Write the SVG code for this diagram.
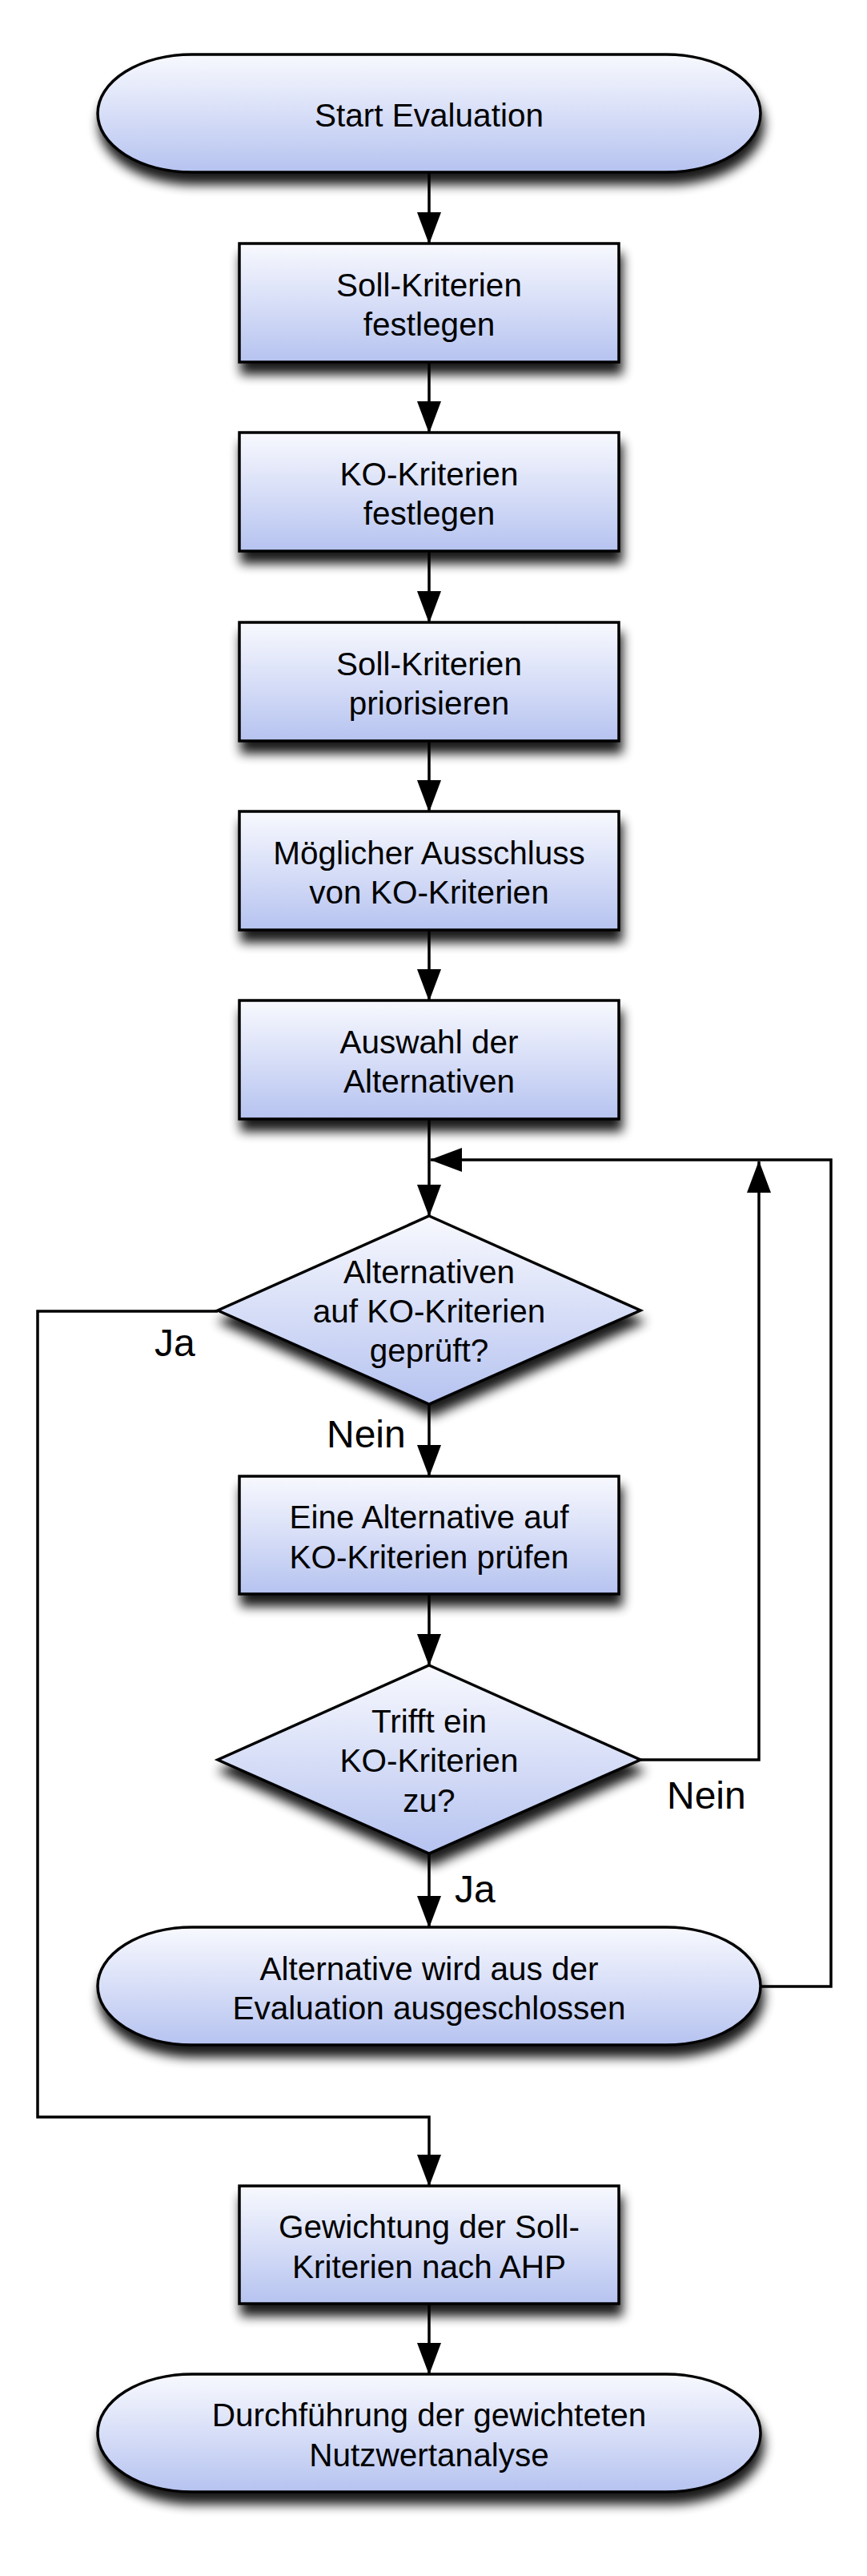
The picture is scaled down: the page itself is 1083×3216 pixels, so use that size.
<svg xmlns="http://www.w3.org/2000/svg" width="1083" height="3216" viewBox="0 0 1083 3216">
<defs>
<linearGradient id="fill" x1="0" y1="0" x2="0" y2="1">
<stop offset="0" stop-color="#f8f9fe"/>
<stop offset="1" stop-color="#b6c3f0"/>
</linearGradient>
<filter id="shadow" x="-20%" y="-20%" width="140%" height="160%">
<feGaussianBlur in="SourceAlpha" stdDeviation="7"/>
<feOffset dx="3" dy="14" result="b"/>
<feComponentTransfer in="b" result="s"><feFuncA type="linear" slope="0.9"/></feComponentTransfer>
<feMerge><feMergeNode in="s"/><feMergeNode in="SourceGraphic"/></feMerge>
</filter>
<marker id="arrow" markerUnits="userSpaceOnUse" markerWidth="42" markerHeight="32" refX="39" refY="15" orient="auto">
<path d="M0,0 L40,15 L0,30 Z" fill="#000"/>
</marker>
</defs>
<style>
.shape{fill:url(#fill);stroke:#000;stroke-width:3.5;filter:url(#shadow)}
.conn{fill:none;stroke:#000;stroke-width:3.5;marker-end:url(#arrow)}
text{font-family:"Liberation Sans",Arial,Helvetica,sans-serif;fill:#000}
.t{font-size:40.5px;text-anchor:middle}
.lbl{font-size:48px}
</style>
<rect width="1083" height="3216" fill="#fff"/>

<g id="connectors">
<path class="conn" d="M536,215 V304"/>
<path class="conn" d="M536,452 V540"/>
<path class="conn" d="M536,688 V777"/>
<path class="conn" d="M536,925 V1013"/>
<path class="conn" d="M536,1161 V1249"/>
<path class="conn" d="M536,1397 V1518"/>
<path class="conn" d="M950,2480 H1038 V1448 H538"/>
<path class="conn" d="M800,2197 H948 V1450"/>
<path class="conn" d="M272,1637 H47 V2643 H536 V2729"/>
<path class="conn" d="M536,1753 V1843"/>
<path class="conn" d="M536,1990 V2079"/>
<path class="conn" d="M536,2314 V2406"/>
<path class="conn" d="M536,2876 V2964"/>
</g>

<g id="start">
<path class="shape" d="M240,68 H832 A118,73.5 0 0 1 832,215 H240 A118,73.5 0 0 1 240,68 Z"/>
<text class="t" x="536" y="158">Start Evaluation</text>
</g>

<g id="soll-festlegen">
<rect class="shape" x="299" y="304" width="474" height="148"/>
<text class="t" x="536" y="370">Soll-Kriterien</text>
<text class="t" x="536" y="419">festlegen</text>
</g>

<g id="ko-festlegen">
<rect class="shape" x="299" y="540" width="474" height="148"/>
<text class="t" x="536" y="606">KO-Kriterien</text>
<text class="t" x="536" y="655">festlegen</text>
</g>

<g id="soll-priorisieren">
<rect class="shape" x="299" y="777" width="474" height="148"/>
<text class="t" x="536" y="843">Soll-Kriterien</text>
<text class="t" x="536" y="892">priorisieren</text>
</g>

<g id="ausschluss">
<rect class="shape" x="299" y="1013" width="474" height="148"/>
<text class="t" x="536" y="1079">Möglicher Ausschluss</text>
<text class="t" x="536" y="1128">von KO-Kriterien</text>
</g>

<g id="auswahl">
<rect class="shape" x="299" y="1249" width="474" height="148"/>
<text class="t" x="536" y="1315">Auswahl der</text>
<text class="t" x="536" y="1364">Alternativen</text>
</g>

<g id="decision-geprueft">
<path class="shape" d="M536,1518 L800,1636 L536,1753 L272,1636 Z"/>
<text class="t" x="536" y="1602">Alternativen</text>
<text class="t" x="536" y="1651">auf KO-Kriterien</text>
<text class="t" x="536" y="1700">geprüft?</text>
</g>

<g id="pruefen">
<rect class="shape" x="299" y="1843" width="474" height="147"/>
<text class="t" x="536" y="1908">Eine Alternative auf</text>
<text class="t" x="536" y="1958">KO-Kriterien prüfen</text>
</g>

<g id="decision-trifft">
<path class="shape" d="M536,2079 L800,2197 L536,2314 L272,2197 Z"/>
<text class="t" x="536" y="2163">Trifft ein</text>
<text class="t" x="536" y="2212">KO-Kriterien</text>
<text class="t" x="536" y="2262">zu?</text>
</g>

<g id="ausgeschlossen">
<path class="shape" d="M240,2406 H832 A118,73.5 0 0 1 832,2553 H240 A118,73.5 0 0 1 240,2406 Z"/>
<text class="t" x="536" y="2472">Alternative wird aus der</text>
<text class="t" x="536" y="2521">Evaluation ausgeschlossen</text>
</g>

<g id="gewichtung">
<rect class="shape" x="299" y="2729" width="474" height="147"/>
<text class="t" x="536" y="2794">Gewichtung der Soll-</text>
<text class="t" x="536" y="2844">Kriterien nach AHP</text>
</g>

<g id="nutzwertanalyse">
<path class="shape" d="M240,2964 H832 A118,73.5 0 0 1 832,3111 H240 A118,73.5 0 0 1 240,2964 Z"/>
<text class="t" x="536" y="3029">Durchführung der gewichteten</text>
<text class="t" x="536" y="3079">Nutzwertanalyse</text>
</g>

<g id="labels">
<text class="lbl" x="193" y="1693">Ja</text>
<text class="lbl" x="408" y="1807">Nein</text>
<text class="lbl" x="833" y="2258">Nein</text>
<text class="lbl" x="568" y="2375">Ja</text>
</g>
</svg>
